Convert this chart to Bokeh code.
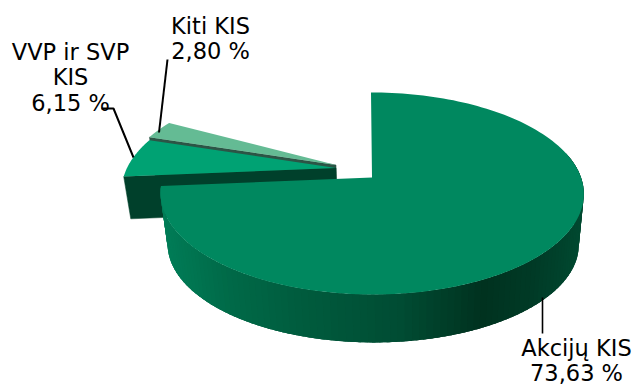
import numpy as np
from bokeh.core.properties import value
from bokeh.embed import file_html
from bokeh.models import Range1d
from bokeh.plotting import figure
from bokeh.resources import INLINE

# Fund-type shares in percent; the remainder of the circle stays empty.
labels = [["Akcijų KIS", "73,63 %"], ["VVP ir SVP", "KIS", "6,15 %"], ["Kiti KIS", "2,80 %"]]
shares = [73.63, 6.15, 2.80]
top_colors = ["#00885f", "#00a273", "#64bb94"]
cut_colors = ["#005c3e", "#00402b", "#2c5546"]

# Perspective model of the disc: top and bottom rims of the cylinder.
TOP = dict(cx=371.5, cy=177.0, rx=209.0, ry=98.5)
BOTTOM = dict(cx=372.5, cy=228.5, rx=203.0, ry=95.5)
TILT = 0.158
SKEW = 1.0
SLICE_SKEW = -14.0
# Screen shift of the pulled-out slices.
SHIFT = {1: (-36.0, -9.5), 2: (-36.0, -12.5)}
BOTTOM_SHIFT = {1: (-36.0, -18.5), 2: (-36.0, -21.5)}

# Shading of the outer wall, keyed on screen x.
wall_x = [160, 230, 300, 400, 480, 530, 590]
wall_rgb = [(0, 127, 89), (0, 106, 72), (0, 92, 62), (0, 76, 51), (0, 50, 31), (0, 58, 38), (0, 77, 51)]


def project(theta_deg, rim, dx=0.0, dy=0.0, skew=SKEW):
    t = np.radians(theta_deg)
    u, v = np.sin(t), np.cos(t)
    w = 1 + TILT * v
    return rim["cx"] + rim["rx"] * u / w - skew * v + dx, rim["cy"] - rim["ry"] * v / w + dy


def hexcolor(x):
    r, g, b = [int(round(np.interp(x, wall_x, [c[i] for c in wall_rgb]))) for i in range(3)]
    return f"#{r:02x}{g:02x}{b:02x}"


edges = np.concatenate([[0], np.cumsum(shares)]) * 3.6

p = figure(width=640, height=385, output_backend="svg", toolbar_location=None,
           x_range=Range1d(0, 640), y_range=Range1d(385, 0), min_border=0)
p.axis.visible = False
p.grid.visible = False
p.outline_line_color = None
p.background_fill_color = "#ffffff"
p.border_fill_color = "#ffffff"


def apex(rim, dx=0.0, dy=0.0):
    return rim["cx"] + dx, rim["cy"] + dy


def cut_face(theta, i):
    dx, dy = SHIFT[i]
    bx, by = BOTTOM_SHIFT[i]
    tx, ty = project(theta, TOP, dx, dy, SLICE_SKEW)
    ax, ay = apex(TOP, dx, dy)
    ux, uy = project(theta, BOTTOM, bx, by, SLICE_SKEW)
    cx, cy = apex(BOTTOM, bx, by)
    p.patch([tx, ax, cx, ux], [ty, ay, cy, uy], fill_color=cut_colors[i], line_color=cut_colors[i], line_width=0.5)


def top_face(start, end, i, dx=0.0, dy=0.0, skew=SKEW):
    th = np.linspace(start, end, 160)
    xs, ys = project(th, TOP, dx, dy, skew)
    ax, ay = apex(TOP, dx, dy)
    p.patch(np.r_[ax, xs], np.r_[ay, ys], fill_color=top_colors[i], line_color=None)


# Pulled-out slices, back to front.
cut_face(edges[2], 2)
cut_face(edges[1], 1)
top_face(edges[1], edges[2], 1, *SHIFT[1], SLICE_SKEW)
top_face(edges[2], edges[3], 2, *SHIFT[2], SLICE_SKEW)

# Outer wall of the large slice as shaded bands; each band runs under its neighbour
# so that no seams show between them.
th = np.linspace(75, edges[1], 110)
step = th[1] - th[0]
for a in th[:-1]:
    arc = np.linspace(a, min(a + 2.5 * step, edges[1]), 8)
    xt, yt = project(arc, TOP)
    xb, yb = project(arc, BOTTOM)
    mid = project(a + step / 2, BOTTOM)[0]
    p.patch(np.r_[xt, xb[::-1]], np.r_[yt, yb[::-1]], fill_color=hexcolor(mid), line_color=None)
top_face(edges[0], edges[1], 0)

# Leader lines.
leaders = [([542, 542], [297, 333], 1.6), ([101, 113, 133], [108, 108, 157], 2.0), ([167, 158.5], [59, 132], 2.0)]
for lx, ly, lw in leaders:
    p.line(lx, ly, line_color="#000000", line_width=lw)

# Data labels, one row of text per line.
anchors = [(576, 347), (70, 51), (210, 25)]
for (ax, ay), rows in zip(anchors, labels):
    xs = [ax] * len(rows)
    ys = [ay + 25.5 * k for k in range(len(rows))]
    p.text(xs, ys, text=rows, text_font=value("DejaVu Sans"), text_font_size="22.5px",
           text_align="center", text_baseline="alphabetic", text_color="#000000")

open("out.html", "w").write(file_html(p, INLINE))
